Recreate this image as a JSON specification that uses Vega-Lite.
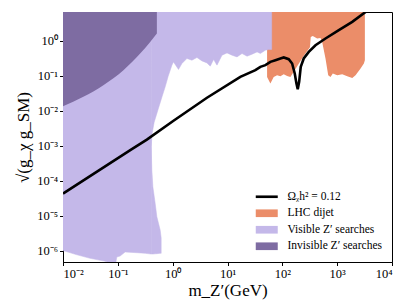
{
  "$schema": "https://vega.github.io/schema/vega-lite/v6.json",
  "width": 329,
  "height": 250,
  "autosize": {"type": "none"},
  "padding": {"left": 63, "top": 12, "right": 19, "bottom": 46},
  "background": "white",
  "config": {
    "view": {"stroke": "black", "strokeWidth": 1},
    "axis": {
      "grid": false,
      "domainColor": "black",
      "domainWidth": 1,
      "tickColor": "black",
      "tickWidth": 1,
      "tickSize": 3.5,
      "labelFont": "Liberation Serif",
      "labelFontSize": 12.5,
      "labelColor": "black",
      "titleFont": "Liberation Serif",
      "titleFontSize": 17,
      "titleFontWeight": "normal",
      "titleColor": "black"
    }
  },
  "datasets": {
    "dijet": [
      {"series": "LHC dijet", "m": 52.71, "g": 0.0927, "g2": 10},
      {"series": "LHC dijet", "m": 60.57, "g": 0.0601, "g2": 10},
      {"series": "LHC dijet", "m": 69.58, "g": 0.0927, "g2": 10},
      {"series": "LHC dijet", "m": 80.28, "g": 0.1037, "g2": 10},
      {"series": "LHC dijet", "m": 92.24, "g": 0.0971, "g2": 10},
      {"series": "LHC dijet", "m": 106.0, "g": 0.1107, "g2": 10},
      {"series": "LHC dijet", "m": 122.3, "g": 0.0990, "g2": 10},
      {"series": "LHC dijet", "m": 140.5, "g": 0.0927, "g2": 10},
      {"series": "LHC dijet", "m": 159.4, "g": 0.1263, "g2": 10},
      {"series": "LHC dijet", "m": 196.7, "g": 0.2136, "g2": 10},
      {"series": "LHC dijet", "m": 242.8, "g": 0.3612, "g2": 10},
      {"series": "LHC dijet", "m": 319.1, "g": 0.6524, "g2": 10},
      {"series": "LHC dijet", "m": 329.9, "g": 1.284, "g2": 10},
      {"series": "LHC dijet", "m": 359.0, "g": 1.371, "g2": 10},
      {"series": "LHC dijet", "m": 432.1, "g": 1.155, "g2": 10},
      {"series": "LHC dijet", "m": 496.4, "g": 1.202, "g2": 10},
      {"series": "LHC dijet", "m": 533.2, "g": 0.924, "g2": 10},
      {"series": "LHC dijet", "m": 612.6, "g": 0.3105, "g2": 10},
      {"series": "LHC dijet", "m": 686.4, "g": 0.1037, "g2": 10},
      {"series": "LHC dijet", "m": 756.0, "g": 0.0927, "g2": 10},
      {"series": "LHC dijet", "m": 832.6, "g": 0.1159, "g2": 10},
      {"series": "LHC dijet", "m": 1002, "g": 0.1037, "g2": 10},
      {"series": "LHC dijet", "m": 1237, "g": 0.1107, "g2": 10},
      {"series": "LHC dijet", "m": 1526, "g": 0.0971, "g2": 10},
      {"series": "LHC dijet", "m": 1884, "g": 0.0868, "g2": 10},
      {"series": "LHC dijet", "m": 2164, "g": 0.1037, "g2": 10},
      {"series": "LHC dijet", "m": 2671, "g": 0.1609, "g2": 10},
      {"series": "LHC dijet", "m": 3069, "g": 0.2236, "g2": 10},
      {"series": "LHC dijet", "m": 3201, "g": 0.2777, "g2": 10}
    ],
    "visible": [
      {"series": "Visible Z′ searches", "piece": "a", "m": 0.01, "g": 1.02e-6, "g2": 10},
      {"series": "Visible Z′ searches", "piece": "a", "m": 0.01728, "g": 7.84e-7, "g2": 10},
      {"series": "Visible Z′ searches", "piece": "a", "m": 0.03113, "g": 6.11e-7, "g2": 10},
      {"series": "Visible Z′ searches", "piece": "a", "m": 0.05613, "g": 5.12e-7, "g2": 10},
      {"series": "Visible Z′ searches", "piece": "a", "m": 0.0855, "g": 4.2e-7, "g2": 10},
      {"series": "Visible Z′ searches", "piece": "a", "m": 0.0911, "g": 4.2e-7, "g2": 10},
      {"series": "Visible Z′ searches", "piece": "a", "m": 0.0958, "g": 6.65e-7, "g2": 10},
      {"series": "Visible Z′ searches", "piece": "a", "m": 0.1101, "g": 7.11e-7, "g2": 10},
      {"series": "Visible Z′ searches", "piece": "a", "m": 0.1358, "g": 9.25e-7, "g2": 10},
      {"series": "Visible Z′ searches", "piece": "a", "m": 0.2250, "g": 8.83e-7, "g2": 10},
      {"series": "Visible Z′ searches", "piece": "a", "m": 0.3150, "g": 8.49e-7, "g2": 10},
      {"series": "Visible Z′ searches", "piece": "a", "m": 0.4055, "g": 8.11e-7, "g2": 10},
      {"series": "Visible Z′ searches", "piece": "b", "m": 0.4055, "g": 8.11e-7, "g2": 9.33e-4},
      {"series": "Visible Z′ searches", "piece": "b", "m": 0.4175, "g": 8.1e-7, "g2": 2.02e-4},
      {"series": "Visible Z′ searches", "piece": "b", "m": 0.4355, "g": 8.1e-7, "g2": 6.74e-5},
      {"series": "Visible Z′ searches", "piece": "b", "m": 0.4797, "g": 8.2e-7, "g2": 2.27e-5},
      {"series": "Visible Z′ searches", "piece": "b", "m": 0.5152, "g": 8.3e-7, "g2": 9.4e-6},
      {"series": "Visible Z′ searches", "piece": "b", "m": 0.5920, "g": 8.49e-7, "g2": 3.92e-6},
      {"series": "Visible Z′ searches", "piece": "b", "m": 0.6175, "g": 8.5e-7, "g2": 2.32e-6},
      {"series": "Visible Z′ searches", "piece": "c", "m": 0.4055, "g": 9.33e-4, "g2": 10},
      {"series": "Visible Z′ searches", "piece": "c", "m": 0.4228, "g": 2.296e-3, "g2": 10},
      {"series": "Visible Z′ searches", "piece": "c", "m": 0.4600, "g": 4.73e-3, "g2": 10},
      {"series": "Visible Z′ searches", "piece": "c", "m": 0.5511, "g": 0.01186, "g2": 10},
      {"series": "Visible Z′ searches", "piece": "c", "m": 0.6441, "g": 0.0261, "g2": 10},
      {"series": "Visible Z′ searches", "piece": "c", "m": 0.7305, "g": 0.0481, "g2": 10},
      {"series": "Visible Z′ searches", "piece": "c", "m": 0.8290, "g": 0.0971, "g2": 10},
      {"series": "Visible Z′ searches", "piece": "c", "m": 0.9685, "g": 0.200, "g2": 10},
      {"series": "Visible Z′ searches", "piece": "c", "m": 1.036, "g": 0.2484, "g2": 10},
      {"series": "Visible Z′ searches", "piece": "c", "m": 1.278, "g": 0.1508, "g2": 10},
      {"series": "Visible Z′ searches", "piece": "c", "m": 1.475, "g": 0.2236, "g2": 10},
      {"series": "Visible Z′ searches", "piece": "c", "m": 1.820, "g": 0.3105, "g2": 10},
      {"series": "Visible Z′ searches", "piece": "c", "m": 2.246, "g": 0.2777, "g2": 10},
      {"series": "Visible Z′ searches", "piece": "c", "m": 2.773, "g": 0.3317, "g2": 10},
      {"series": "Visible Z′ searches", "piece": "c", "m": 3.422, "g": 0.2652, "g2": 10},
      {"series": "Visible Z′ searches", "piece": "c", "m": 4.223, "g": 0.2326, "g2": 10},
      {"series": "Visible Z′ searches", "piece": "c", "m": 4.852, "g": 0.1873, "g2": 10},
      {"series": "Visible Z′ searches", "piece": "c", "m": 5.575, "g": 0.2908, "g2": 10},
      {"series": "Visible Z′ searches", "piece": "c", "m": 6.432, "g": 0.200, "g2": 10},
      {"series": "Visible Z′ searches", "piece": "c", "m": 7.938, "g": 0.3858, "g2": 10},
      {"series": "Visible Z′ searches", "piece": "c", "m": 9.797, "g": 0.4486, "g2": 10},
      {"series": "Visible Z′ searches", "piece": "c", "m": 12.09, "g": 0.3858, "g2": 10},
      {"series": "Visible Z′ searches", "piece": "c", "m": 14.92, "g": 0.3449, "g2": 10},
      {"series": "Visible Z′ searches", "piece": "c", "m": 18.41, "g": 0.4313, "g2": 10},
      {"series": "Visible Z′ searches", "piece": "c", "m": 22.73, "g": 0.3612, "g2": 10},
      {"series": "Visible Z′ searches", "piece": "c", "m": 28.04, "g": 0.4119, "g2": 10},
      {"series": "Visible Z′ searches", "piece": "c", "m": 34.61, "g": 0.4792, "g2": 10},
      {"series": "Visible Z′ searches", "piece": "c", "m": 39.77, "g": 0.4313, "g2": 10},
      {"series": "Visible Z′ searches", "piece": "c", "m": 49.07, "g": 0.5357, "g2": 10},
      {"series": "Visible Z′ searches", "piece": "c", "m": 56.37, "g": 0.5610, "g2": 10},
      {"series": "Visible Z′ searches", "piece": "c", "m": 63.97, "g": 0.5610, "g2": 10}
    ],
    "invisible": [
      {"series": "Invisible Z′ searches", "m": 0.01, "g": 0.01352, "g2": 10},
      {"series": "Invisible Z′ searches", "m": 0.0235, "g": 0.02495, "g2": 10},
      {"series": "Invisible Z′ searches", "m": 0.0545, "g": 0.0537, "g2": 10},
      {"series": "Invisible Z′ searches", "m": 0.1265, "g": 0.1439, "g2": 10},
      {"series": "Invisible Z′ searches", "m": 0.2553, "g": 0.4315, "g2": 10},
      {"series": "Invisible Z′ searches", "m": 0.389, "g": 0.925, "g2": 10},
      {"series": "Invisible Z′ searches", "m": 0.515, "g": 1.603, "g2": 10}
    ],
    "relic": [
      {"m": 0.01, "g": 4.31e-5},
      {"m": 0.18, "g": 8.0e-4},
      {"m": 0.3383, "g": 1.5e-3},
      {"m": 1.036, "g": 5.2e-3},
      {"m": 4.223, "g": 0.0235},
      {"m": 17.14, "g": 0.0927},
      {"m": 32.23, "g": 0.1440},
      {"m": 39.77, "g": 0.1789},
      {"m": 49.07, "g": 0.200},
      {"m": 60.57, "g": 0.2484},
      {"m": 74.74, "g": 0.2777},
      {"m": 92.24, "g": 0.3105},
      {"m": 106.0, "g": 0.3317},
      {"m": 130.8, "g": 0.2967},
      {"m": 150.9, "g": 0.2236},
      {"m": 168.4, "g": 0.1159},
      {"m": 180.9, "g": 0.0601},
      {"m": 191.0, "g": 0.0413},
      {"m": 202.6, "g": 0.0668},
      {"m": 216.7, "g": 0.1789},
      {"m": 245.8, "g": 0.3105},
      {"m": 303.4, "g": 0.4792},
      {"m": 402.2, "g": 0.7437},
      {"m": 612.6, "g": 1.155},
      {"m": 1072, "g": 1.993},
      {"m": 1884, "g": 3.439},
      {"m": 3296, "g": 6.63}
    ]
  },
  "encoding": {
    "x": {
      "field": "m",
      "type": "quantitative",
      "scale": {"type": "log", "domain": [0.01, 10000], "nice": false},
      "axis": {
        "values": [0.01, 0.1, 1, 10, 100, 1000, 10000],
        "labelExpr": "'10' + replace(replace(replace(replace(replace(replace(replace(replace('' + round(log(datum.value)/LN10), '-', '⁻'), '0', '⁰'), '1', '¹'), '2', '²'), '3', '³'), '4', '⁴'), '5', '⁵'), '6', '⁶')",
        "labelPadding": 2,
        "title": "m_Z′(GeV)",
        "titlePadding": 2
      }
    },
    "y": {
      "field": "g",
      "type": "quantitative",
      "scale": {"type": "log", "domain": [4.8e-7, 6.6], "nice": false},
      "axis": {
        "values": [1e-6, 1e-5, 1e-4, 1e-3, 0.01, 0.1, 1],
        "labelExpr": "'10' + replace(replace(replace(replace(replace(replace(replace(replace('' + round(log(datum.value)/LN10), '-', '⁻'), '0', '⁰'), '1', '¹'), '2', '²'), '3', '³'), '4', '⁴'), '5', '⁵'), '6', '⁶')",
        "labelPadding": 2,
        "title": "√(g_χ g_SM)",
        "titlePadding": 4
      }
    }
  },
  "layer": [
    {
      "data": {"name": "dijet"},
      "mark": {"type": "area", "opacity": 1, "clip": true, "strokeWidth": 0},
      "encoding": {
        "y2": {"field": "g2"},
        "color": {
          "field": "series",
          "type": "nominal",
          "scale": {
            "domain": ["Ωᵪh² = 0.12", "LHC dijet", "Visible Z′ searches", "Invisible Z′ searches"],
            "range": ["#000000", "#eb8d69", "#c4b8e9", "#7e6ca2"]
          },
          "legend": {
            "title": null,
            "orient": "bottom-right",
            "offset": 10,
            "padding": 0,
            "labelFont": "Liberation Serif",
            "labelFontSize": 11.5,
            "labelColor": "black",
            "labelOffset": 15,
            "rowPadding": 3.5,
            "symbolSize": 64,
            "symbolType": "M-2.75,-0.96L2.75,-0.96L2.75,0.96L-2.75,0.96Z",
            "symbolStrokeWidth": 0,
            "symbolOpacity": 1,
            "encode": {
              "symbols": {
                "update": {
                  "shape": [
                    {"test": "datum.index === 0", "value": "M-2.75,-0.33L2.75,-0.33L2.75,0.33L-2.75,0.33Z"},
                    {"value": "M-2.75,-0.96L2.75,-0.96L2.75,0.96L-2.75,0.96Z"}
                  ]
                }
              }
            }
          }
        }
      }
    },
    {
      "data": {"name": "visible"},
      "mark": {"type": "area", "opacity": 1, "clip": true, "stroke": "#c4b8e9", "strokeWidth": 0.5},
      "encoding": {
        "y2": {"field": "g2"},
        "detail": {"field": "piece"},
        "color": {"field": "series", "type": "nominal"}
      }
    },
    {
      "data": {"name": "invisible"},
      "mark": {"type": "area", "opacity": 1, "clip": true, "interpolate": "monotone", "strokeWidth": 0},
      "encoding": {
        "y2": {"field": "g2"},
        "color": {"field": "series", "type": "nominal"}
      }
    },
    {
      "data": {"name": "relic"},
      "mark": {"type": "line", "color": "black", "strokeWidth": 2.6, "clip": true},
      "encoding": {}
    }
  ]
}
